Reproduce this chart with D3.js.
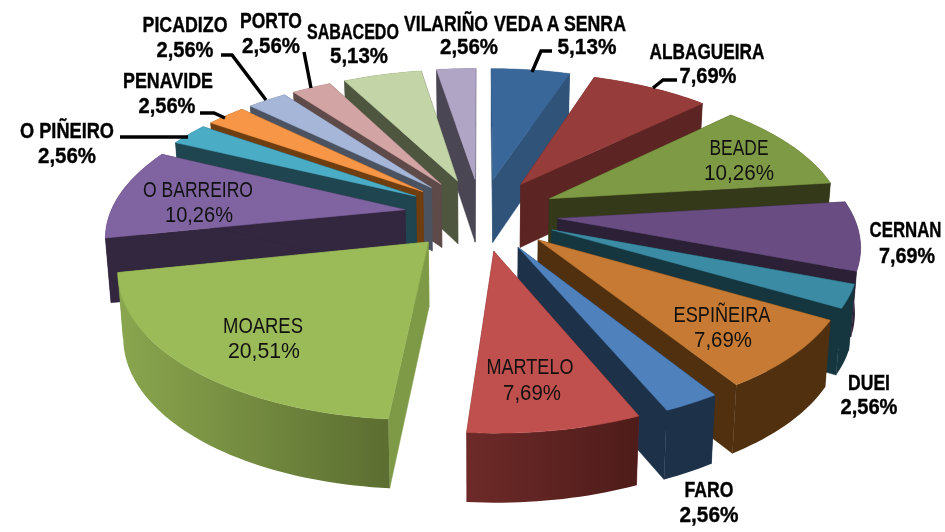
<!DOCTYPE html>
<html><head><meta charset="utf-8">
<script src="https://cdnjs.cloudflare.com/ajax/libs/d3/7.8.5/d3.min.js"></script>
<style>html,body{margin:0;background:#fff;overflow:hidden}svg{display:block;filter:blur(.55px)}</style>
</head><body><div id="chart"></div>
<script>
const categories = ["VEDA A SENRA","ALBAGUEIRA","BEADE","CERNAN","DUEI","ESPIÑEIRA","FARO","MARTELO","MOARES","O BARREIRO","O PIÑEIRO","PENAVIDE","PICADIZO","PORTO","SABACEDO","VILARIÑO"];
const values = [5.13,7.69,10.26,7.69,2.56,7.69,2.56,7.69,20.51,10.26,2.56,2.56,2.56,2.56,5.13,2.56];
const topColors = ["#3a6799","#963d3b","#7f9a45","#694d82","#3a8ba3","#c67a33","#4f81bd","#c0504d","#9bbb59","#8064a2","#4bacc6","#f79646","#a5b6d9","#d2a4a3","#c3d5a6","#b1a5c6"];
const wallColors = ["#2f5379","#5c2523","#34391a","#2b2035","#16363f","#50300f","#1d3149","#6a2827","#7f9a47","#33263f","#1f4550","#6e3d10","#4b5361","#5e4a49","#4e5640","#4b4654"];
const outerLeft = ["#2f5379","#5c2523","#34391a","#2b2035","#16363f","#50300f","#1d3149","#6d2a28","#8aa64e","#33263f","#1f4550","#6e3d10","#4b5361","#5e4a49","#4e5640","#4b4654"];
const outerRight = ["#2f5379","#5c2523","#34391a","#2b2035","#16363f","#50300f","#1d3149","#4e1c1a","#5c6e31","#33263f","#1f4550","#6e3d10","#4b5361","#5e4a49","#4e5640","#4b4654"];

// label layout: name centre, name baseline, name width, value centre, value baseline, value width, bold
const labelLayout = [
 [560,31,132,587,54,59,1],[707,59,115,708,83,57,1],[739,155,59,739,180,70,0],[905.5,237,72,907,263,56,1],
 [869,390,42,869,414,57,1],[722,322,97,723,347,58,0],[709,497,49,709,522,59,1],[530,374,87,532,400,58,0],
 [263,333,80,264,358,72,0],[198,197,110,199,222,68,0],[67,138,94,67,163,58,1],[168,88,90,167,113,57,1],
 [185,32,85,185,57,57,1],[271,28,62,271,53,58,1],[353,39,92,359,63,58,1],[446,31,84,469,54,58,1]];
const leaderLines = [
 [[552,51],[541,51],[532,72]],[[677,80],[663,80],[653,88]],
 [[120,137],[188,137]],[[200,113],[214,113],[225,118]],[[221,55],[232,55],[266,100]],[[304,52],[311,88]]];

const W=945,H=532,cx=481,cy=214,R=295,explode=77,tilt=.471,persp=.000546;
const project=(X,Y)=>{const d=1-persp*Y;return [cx+X/d,cy+tilt*Y/d];};
const drop=Y=>64+.015*Y;
const shrink=.985;
const lower=(X,Y)=>{const p=project(X,Y);return [cx+(p[0]-cx)*shrink,p[1]+drop(Y)];};

const arcs=d3.pie().sort(null).value(d=>d)(values);
const svg=d3.select("#chart").append("svg").attr("width",W).attr("height",H).attr("viewBox",[0,0,W,H]);
const defs=svg.append("defs");
const line=d3.line();

const slices=arcs.map((a,i)=>{
  const mid=(a.startAngle+a.endAngle)/2;
  const ox=explode*Math.sin(mid),oy=-explode*Math.cos(mid);
  const n=Math.max(4,Math.ceil((a.endAngle-a.startAngle)*40));
  const rim=d3.range(n+1).map(k=>{
    const t=a.startAngle+(a.endAngle-a.startAngle)*k/n;
    return [ox+R*Math.sin(t),oy-R*Math.cos(t)];
  });
  return {i,apex:[ox,oy],rim};
}).sort((p,q)=>p.apex[1]-q.apex[1]);

const groups=svg.selectAll("g.slice").data(slices).join("g").attr("class","slice");
groups.each(function(s){
  const g=d3.select(this),up=s.rim.map(p=>project(...p)),dn=s.rim.map(p=>lower(...p));
  const a0=project(...s.apex),a1=lower(...s.apex);
  const wall=(pts,fill)=>g.append("path").attr("d",line(pts)+"Z").attr("fill",fill).attr("stroke",fill).attr("stroke-width",.5);
  wall([a0,up[0],dn[0],a1],wallColors[s.i]);
  wall([a0,up[up.length-1],dn[dn.length-1],a1],wallColors[s.i]);
  const id="grad"+s.i,xs=d3.extent(up,p=>p[0]);
  const gr=defs.append("linearGradient").attr("id",id).attr("gradientUnits","userSpaceOnUse")
    .attr("x1",xs[0]).attr("x2",xs[1]).attr("y1",0).attr("y2",0);
  gr.append("stop").attr("offset",0).attr("stop-color",outerLeft[s.i]);
  gr.append("stop").attr("offset",1).attr("stop-color",outerRight[s.i]);
  g.append("path").attr("d",line(up.concat(dn.slice().reverse()))+"Z").attr("fill",`url(#${id})`);
  g.append("path").attr("d",line([a0].concat(up))+"Z").attr("fill",topColors[s.i]).attr("stroke",topColors[s.i]).attr("stroke-width",.5);
});

svg.selectAll("path.leader").data(leaderLines).join("path").attr("class","leader")
  .attr("d",d=>line(d)).attr("fill","none").attr("stroke","#000").attr("stroke-width",3.4);

const fmt=v=>v.toFixed(2).replace(".",",")+"%";
const font="'Liberation Sans Narrow','Liberation Sans',sans-serif";
const labels=svg.selectAll("g.label").data(categories).join("g").attr("class","label");
const put=(g,txt,x,y,w,bold)=>{
  const t=g.append("text").text(txt).attr("text-anchor","middle")
    .attr("font-family",font).attr("font-size",22).attr("font-weight",bold?700:400)
    .attr("fill",bold?"#000":"#111").attr("stroke",bold?"#000":"none").attr("stroke-width",bold?.4:0);
  const natural=t.node().getComputedTextLength();
  t.attr("transform",`translate(${x},${y}) scale(${w/natural},1)`);
};
labels.each(function(name,i){
  const g=d3.select(this),l=labelLayout[i];
  put(g,name,l[0],l[1],l[2],l[6]);
  put(g,fmt(values[i]),l[3],l[4],l[5],l[6]);
});
</script></body></html>
